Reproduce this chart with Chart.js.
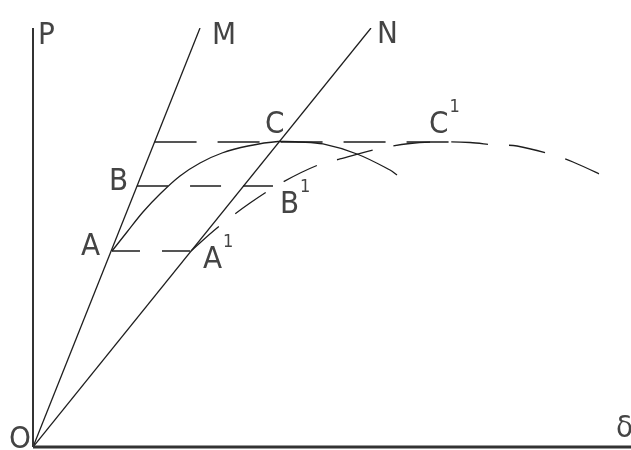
<!DOCTYPE html>
<html>
<head>
<meta charset="utf-8">
<script src="https://cdn.jsdelivr.net/npm/chart.js@4"></script>
<style>
    html, body { margin: 0; padding: 0; background: #fff; }
    canvas { display: block; }
</style>
</head>
<body>
<canvas id="diagram" width="631" height="450"></canvas>
<script>
// Load P against deflection δ, both in relative units (0..100)
const rayOM = [{ x: 0, y: 0 }, { x: 27.93, y: 100 }];
const rayON = [{ x: 0, y: 0 }, { x: 56.52, y: 100 }];

// first loading curve A-B-C and its falling branch
const firstX = [13.21, 15.72, 18.39, 21.24, 24.58, 27.93, 31.61, 35.95, 40.97, 44.65, 48.49, 54.18, 59.70, 60.87];
const firstY = [46.78, 51.31, 56.09, 60.38, 64.68, 67.78, 70.17, 71.84, 72.91, 72.79, 72.32, 69.93, 66.11, 64.92];

// reduced-stiffness curve A1-B1-C1
const secondX = [26.42, 30.77, 36.29, 41.81, 47.66, 51.34, 57.53, 63.04, 68.06, 73.08, 77.26, 80.94, 86.96, 90.30, 96.15];
const secondY = [46.78, 52.27, 58.23, 63.25, 67.30, 68.74, 71.12, 72.43, 72.79, 72.67, 72.08, 71.84, 69.69, 68.02, 64.20];

// horizontal load levels: start on OM, end to the right
const levelA = { y: 46.78, from: 13.21, to: 26.42 };
const levelB = { y: 62.29, from: 17.40, to: 40.13 };
const levelC = { y: 72.79, from: 20.33, to: 69.73 };

// lettered points
const markLabels = [
    { text: 'P', sup: '', x: 0, y: 100 },
    { text: 'M', sup: '', x: 27.93, y: 100 },
    { text: 'N', sup: '', x: 56.52, y: 100 },
    { text: 'C', sup: '', x: 40.97, y: 72.79 },
    { text: 'C', sup: '1', x: 66.72, y: 72.79 },
    { text: 'B', sup: '', x: 17.40, y: 62.29 },
    { text: 'B', sup: '1', x: 40.13, y: 62.29 },
    { text: 'A', sup: '', x: 13.21, y: 46.78 },
    { text: 'A', sup: '1', x: 26.42, y: 46.78 },
    { text: 'O', sup: '', x: 0, y: 0 },
    { text: 'δ', sup: '', x: 100, y: 0 }
];

// pixel nudges for each letter relative to its point
const labelNudge = {
    'P': [5, 16], 'M': [12, 16], 'N': [6, 15],
    'C': [-13, -9], 'C1': [-3, -9],
    'B': [-28, 4], 'B1': [7, 27],
    'A': [-31, 4], 'A1': [12, 17],
    'O': [-24, 1], 'δ': [-15, -10]
};

const zip = (xs, ys) => xs.map((x, i) => ({ x: x, y: ys[i] }));
const level = (l) => [{ x: l.from, y: l.y }, { x: l.to, y: l.y }];

const INK = '#1e1e1e';
const FONT = "'Liberation Sans Narrow', 'DejaVu Sans Condensed', sans-serif";

function line(data, width, dash, extra) {
    return Object.assign({
        data: data,
        showLine: true,
        borderColor: INK,
        borderWidth: width,
        borderDash: dash || [],
        pointRadius: 0,
        fill: false
    }, extra || {});
}

const letterPlugin = {
    id: 'letters',
    afterDatasetsDraw(chart) {
        const ctx = chart.ctx;
        const xs = chart.scales.x, ys = chart.scales.y;
        ctx.save();
        ctx.fillStyle = '#444';
        ctx.textBaseline = 'alphabetic';
        markLabels.forEach(m => {
            const nudge = labelNudge[m.text + m.sup] || [0, 0];
            const px = xs.getPixelForValue(m.x) + nudge[0];
            const py = ys.getPixelForValue(m.y) + nudge[1];
            ctx.font = '31px ' + FONT;
            ctx.fillText(m.text, px, py);
            if (m.sup) {
                const w = ctx.measureText(m.text).width;
                ctx.font = '18px ' + FONT;
                ctx.fillText(m.sup, px + w + 1, py - 21);
            }
        });
        ctx.restore();
    }
};

new Chart(document.getElementById('diagram'), {
    type: 'scatter',
    data: {
        datasets: [
            line([{ x: 0, y: 0 }, { x: 0, y: 100 }], 2, null, { borderColor: '#333', clip: false }),
            line([{ x: 0, y: 0 }, { x: 100, y: 0 }], 3, null, { borderColor: '#333', clip: false }),
            line(rayOM, 1.3),
            line(rayON, 1.3),
            line(zip(firstX, firstY), 1.3, null, { tension: 0.35 }),
            line(zip(secondX, secondY), 1.3, [37, 21], { tension: 0.35 }),
            line(level(levelA), 1.3, [28, 22]),
            line(level(levelB), 1.3, [31, 22]),
            line(level(levelC), 1.3, [42, 21])
        ]
    },
    options: {
        responsive: false,
        animation: false,
        layout: { padding: { left: 33, top: 28, right: 0, bottom: 3 } },
        scales: {
            x: { type: 'linear', display: false, min: 0, max: 100 },
            y: { type: 'linear', display: false, min: 0, max: 100 }
        },
        plugins: {
            legend: { display: false },
            tooltip: { enabled: false }
        }
    },
    plugins: [letterPlugin]
});
</script>
</body>
</html>
